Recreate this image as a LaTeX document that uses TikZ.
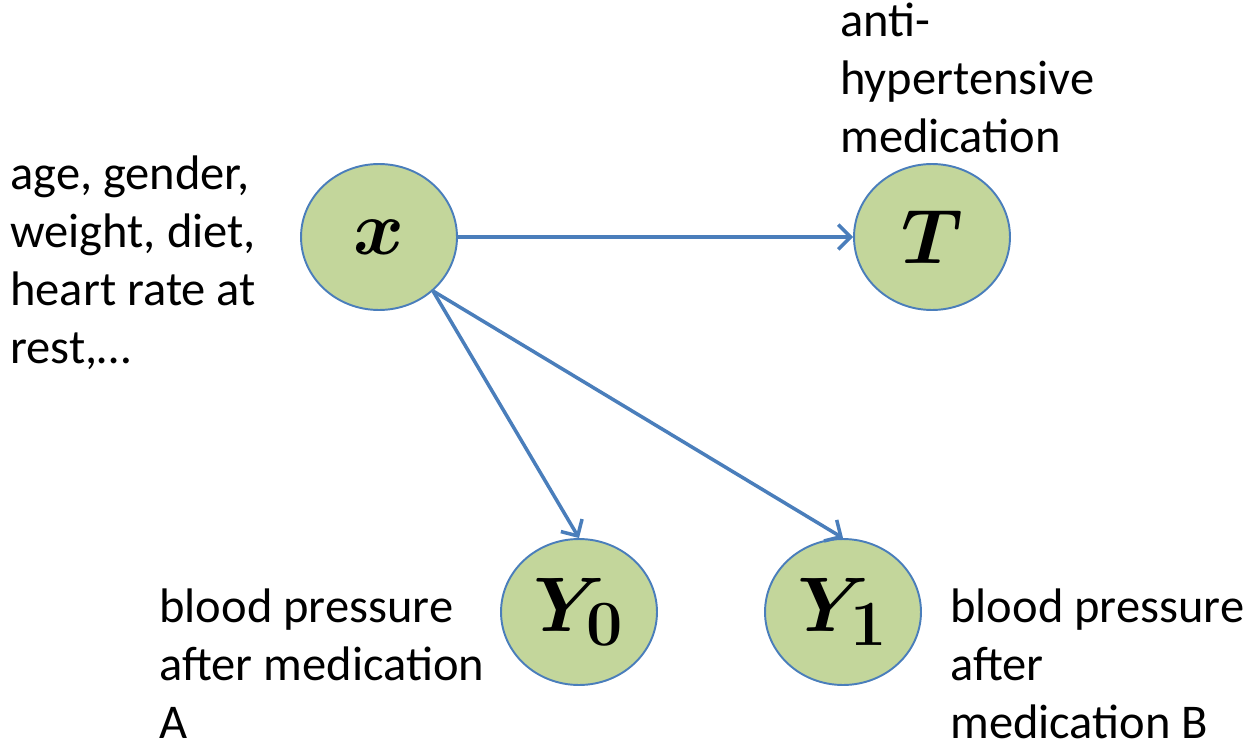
\documentclass[tikz,border=0pt]{standalone}
\usepackage{fontspec}
\setmainfont{Carlito}
\usepackage{amsmath}
\usepackage{graphicx}
\usetikzlibrary{shapes.geometric,arrows.meta}
\definecolor{nodefill}{HTML}{C3D69B}
\definecolor{nodeedge}{HTML}{4A7EBB}
\definecolor{linkblue}{HTML}{4A7EBB}
\newcommand{\bigvar}[1]{\scalebox{1.77}{$\boldsymbol{#1}$}}

\begin{document}
\begin{tikzpicture}[x=0.02cm,y=-0.02cm,
    var/.style={ellipse,draw=nodeedge,line width=1.1pt,fill=nodefill,
      minimum width=3.12cm,minimum height=2.92cm,inner sep=0pt,
      font=\Huge},
    link/.style={draw=linkblue,line width=2pt,
      -{Straight Barb[length=7pt,width=14pt,line width=2pt]}},
    lbl/.style={anchor=base west,align=left,inner sep=0pt,
      font=\fontsize{27.6}{33}\selectfont}]
  \useasboundingbox (0,0) rectangle (1247,747);
  % variables
  \node[var] (x) at (379,237) {\bigvar{x}};
  \node[var] (T) at (932,237) {\bigvar{T}};
  \node[var] (Y0) at (579,612) {\bigvar{Y_0}};
  \node[var] (Y1) at (843,612) {\bigvar{Y_1}};
  % descriptions (placed by the baseline of their last line)
  \node[lbl] (xlbl) at (10,363) {age, gender,\\weight, diet,\\heart rate at\\rest,…};
  \node[lbl] (Tlbl) at (840,152) {anti-\\hypertensive\\medication};
  \node[lbl] (Y0lbl) at (159,738) {blood pressure\\after medication\\A};
  \node[lbl] (Y1lbl) at (950,738) {blood pressure\\after\\medication B};
  % edges
  \draw[link] (x) -- (T);
  \draw[link] (x.-45) -- (Y0.north);
  \draw[link] (x.-45) -- (Y1.north);
\end{tikzpicture}
\end{document}
